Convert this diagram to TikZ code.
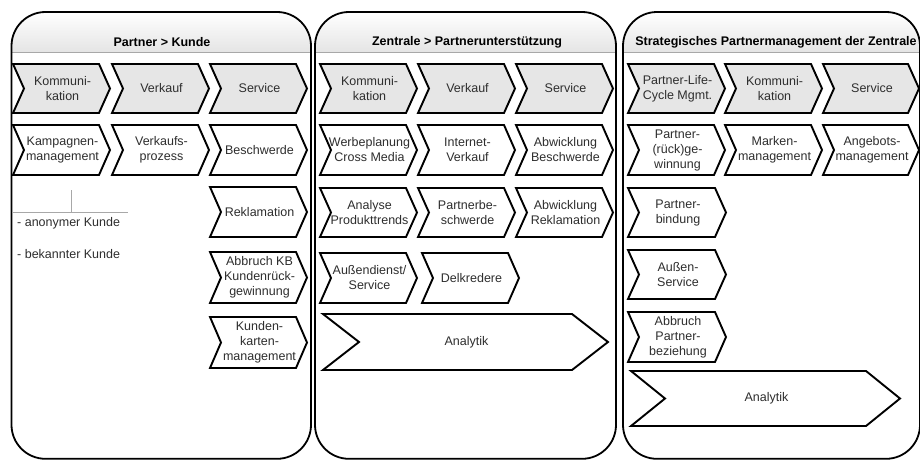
\documentclass[tikz,border=0pt]{standalone}
\usepackage{fontspec}
\setmainfont{Liberation Sans}
\definecolor{headgray}{HTML}{E4E4E4}
\definecolor{chevgray}{HTML}{E6E6E6}
\definecolor{labelgray}{HTML}{2E2E2E}
\definecolor{rulegray}{HTML}{A8A8A8}

% chevron: [style]{name}{x}{y top}{width}{height}{depth}{text}
\newcommand\chev[8][]{%
  \draw[chevline,#1] (#3,#4) -- ({#3+#5-#7},#4) -- ({#3+#5},{#4+#6/2})
    -- ({#3+#5-#7},{#4+#6}) -- (#3,{#4+#6}) -- ({#3+#7},{#4+#6/2}) -- cycle;
  \node[lbl] (#2) at ({#3+#5/2+1},{#4+#6/2}) {#8};
}
% column panel: {name}{left}{right}{title x}{title}
\newcommand\panelbox[5]{%
  \begin{scope}
    \clip[rounded corners=34] (#2,12) rectangle (#3,458.8);
    \shade[top color=white, bottom color=headgray] (#2,12) rectangle (#3,53);
  \end{scope}
  \draw[sepline] (#2,53) -- (#3,53);
  \draw[panelline, rounded corners=34] (#2,12) rectangle (#3,458.8);
  \node[paneltitle] (#1) at (#4,42) {#5};
}

\begin{document}
\begin{tikzpicture}[x=1pt,y=-1pt,
  chevline/.style={draw=black, line width=1.9pt, line join=miter, fill=white},
  headchev/.style={fill=chevgray},
  lbl/.style={font=\fontsize{12.5}{15}\selectfont, text=labelgray, align=center, inner sep=0pt},
  paneltitle/.style={font=\fontsize{12.5}{15}\selectfont\bfseries, text=black, inner sep=0pt},
  panelline/.style={draw=black, line width=1.8pt},
  sepline/.style={draw=rulegray, line width=1pt},
  listline/.style={draw=rulegray, line width=0.8pt},
  listtext/.style={font=\fontsize{12.5}{15}\selectfont, text=labelgray, inner sep=0pt, anchor=west}]
\useasboundingbox (0,0) rectangle (920,460);
\fill[white] (0,0) rectangle (920,460);

% ---------- Partner > Kunde ----------
\panelbox{t1}{11.5}{311}{162}{Partner > Kunde}
\chev[headchev]{pk1}{13}{64}{97}{49}{11}{Kommuni-\\kation}
\chev[headchev]{pk2}{112}{64}{97}{49}{11}{Verkauf}
\chev[headchev]{pk3}{210}{64}{97}{49}{11}{Service}
\chev{pk4}{13}{125}{97}{50}{11}{Kampagnen-\\management}
\chev{pk5}{112}{125}{97}{50}{11}{Verkaufs-\\prozess}
\chev{pk6}{210}{125}{97}{50}{11}{Beschwerde}
\chev{pk7}{210}{187}{97}{50}{11}{Reklamation}
\chev{pk8}{210}{252}{97}{51}{11}{Abbruch KB\\Kundenrück-\\gewinnung}
\chev{pk9}{210}{317}{97}{51}{11}{Kunden-\\karten-\\management}
\draw[listline] (71,190) -- (71,212);
\draw[listline] (13,212) -- (128,212);
\node[listtext] (k1) at (17,223) {- anonymer Kunde};
\node[listtext] (k2) at (17,254) {- bekannter Kunde};

% ---------- Zentrale > Partnerunterstuetzung ----------
\panelbox{t2}{315}{616}{467}{Zentrale > Partnerunterstützung}
\chev[headchev]{zp1}{320}{64}{97}{49}{11}{Kommuni-\\kation}
\chev[headchev]{zp2}{418}{64}{97}{49}{11}{Verkauf}
\chev[headchev]{zp3}{516}{64}{97}{49}{11}{Service}
\chev{zp4}{320}{125}{97}{50}{11}{Werbeplanung\\Cross Media}
\chev{zp5}{418}{125}{97}{50}{11}{Internet-\\Verkauf}
\chev{zp6}{516}{125}{97}{50}{11}{Abwicklung\\Beschwerde}
\chev{zp7}{320}{188}{97}{49}{11}{Analyse\\Produkttrends}
\chev{zp8}{418}{188}{97}{49}{11}{Partnerbe-\\schwerde}
\chev{zp9}{516}{188}{97}{49}{11}{Abwicklung\\Reklamation}
\chev{zp10}{320}{253}{97}{50}{11}{Außendienst/\\Service}
\chev{zp11}{422}{253}{97}{50}{11}{Delkredere}
\chev{zp12}{323}{314}{285}{56}{36}{Analytik}

% ---------- Strategisches Partnermanagement ----------
\panelbox{t3}{623}{920}{776}{Strategisches Partnermanagement der Zentrale}
\chev[headchev]{sp1}{628}{64}{97}{49}{11}{Partner-Life-\\Cycle Mgmt.}
\chev[headchev]{sp2}{725}{64}{97}{49}{11}{Kommuni-\\kation}
\chev[headchev]{sp3}{823}{64}{96}{49}{11}{Service}
\chev{sp4}{628}{125}{97}{50}{11}{Partner-\\(rück)ge-\\winnung}
\chev{sp5}{725}{125}{97}{50}{11}{Marken-\\management}
\chev{sp6}{823}{125}{96}{50}{11}{Angebots-\\management}
\chev{sp7}{628}{188}{98}{49}{11}{Partner-\\bindung}
\chev{sp8}{628}{250}{98}{49}{11}{Außen-\\Service}
\chev{sp9}{628}{312}{98}{50}{11}{Abbruch\\Partner-\\beziehung}
\chev{sp10}{631}{371}{269}{55}{34}{Analytik}
\end{tikzpicture}
\end{document}
